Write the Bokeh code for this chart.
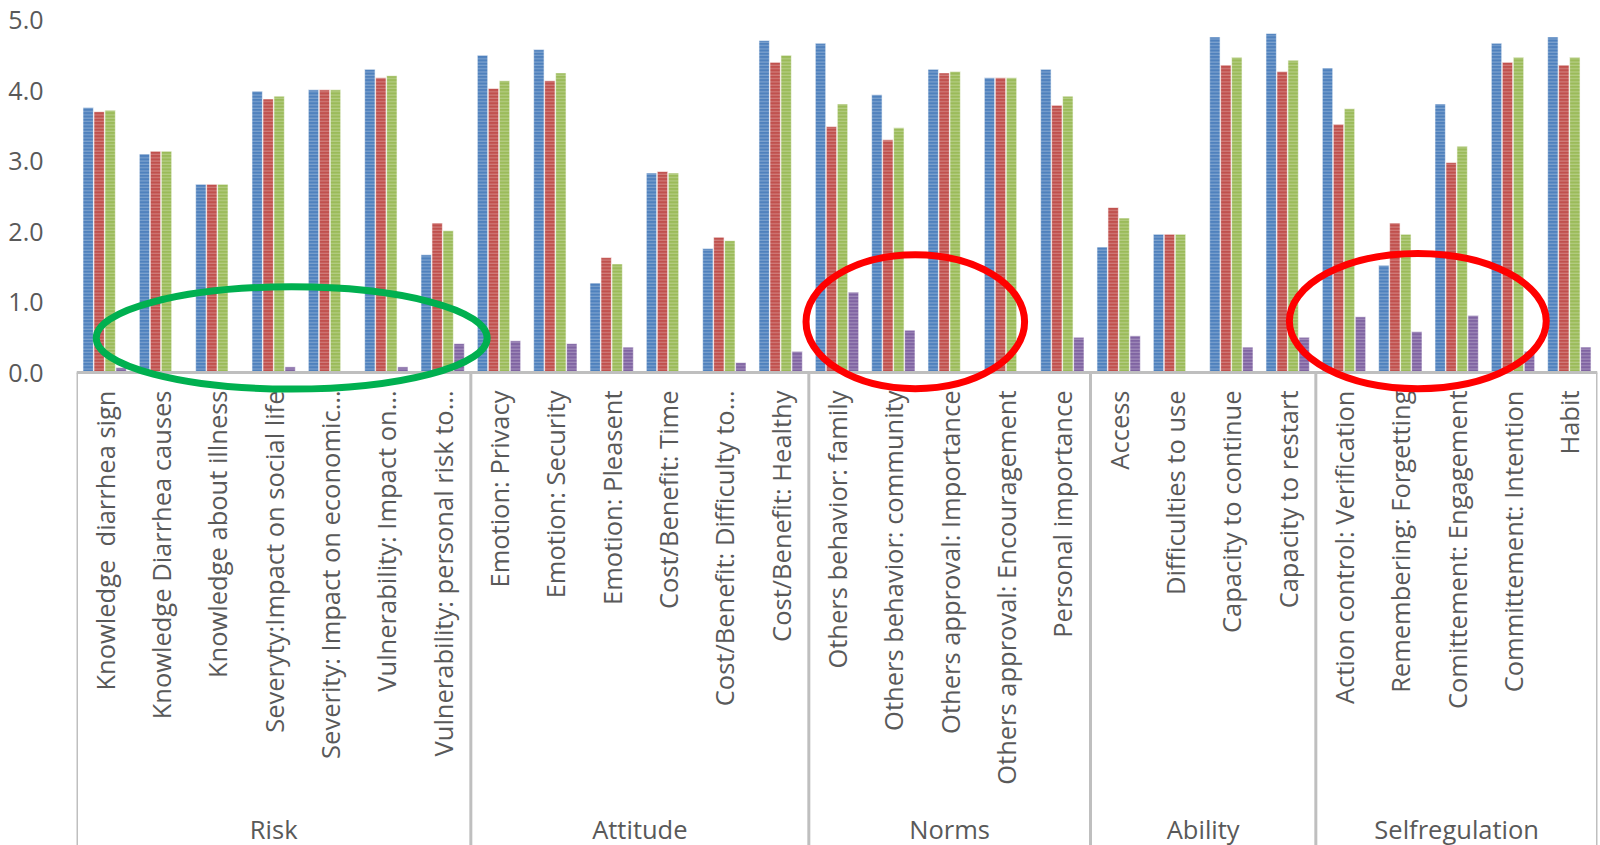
import math
from bokeh.plotting import figure
from bokeh.models import (ColumnDataSource, Range1d, LinearAxis, FixedTicker,
                          NumeralTickFormatter)
from bokeh.transform import dodge
from bokeh.core.properties import value
from bokeh.embed import file_html
from bokeh.resources import INLINE

# ---- data -----------------------------------------------------------------
groups = ["Risk", "Attitude", "Norms", "Ability", "Selfregulation"]

group_of = (["Risk"] * 7 + ["Attitude"] * 6 + ["Norms"] * 5 +
            ["Ability"] * 4 + ["Selfregulation"] * 5)

categories = [
    "Knowledge\u00a0 diarrhea sign",
    "Knowledge Diarrhea causes",
    "Knowledge about illness",
    "Severyty:Impact on social life",
    "Severity: Impact on economic\u2026",
    "Vulnerability: Impact on\u2026",
    "Vulnerability: personal risk to\u2026",
    "Emotion: Privacy",
    "Emotion: Security",
    "Emotion: Pleasent",
    "Cost/Benefit: Time",
    "Cost/Benefit: Difficulty to\u2026",
    "Cost/Benefit: Healthy",
    "Others behavior: family",
    "Others behavior: community",
    "Others approval: Importance",
    "Others approval: Encouragement",
    "Personal importance",
    "Access",
    "Difficulties to use",
    "Capacity to continue",
    "Capacity to restart",
    "Action control: Verification",
    "Remembering: Forgetting",
    "Comittement: Engagement",
    "Committement: Intention",
    "Habit",
]

series_1 = [3.76, 3.10, 2.67, 3.99, 4.01, 4.30, 1.67,
            4.50, 4.58, 1.27, 2.83, 1.76, 4.71,
            4.67, 3.94, 4.30, 4.18, 4.30,
            1.78, 1.96, 4.76, 4.81,
            4.32, 1.52, 3.81, 4.67, 4.76]
series_2 = [3.70, 3.14, 2.67, 3.88, 4.01, 4.18, 2.12,
            4.03, 4.14, 1.63, 2.85, 1.92, 4.40,
            3.49, 3.30, 4.25, 4.18, 3.79,
            2.34, 1.96, 4.36, 4.27,
            3.52, 2.12, 2.98, 4.40, 4.36]
series_3 = [3.72, 3.14, 2.67, 3.92, 4.01, 4.21, 2.01,
            4.14, 4.25, 1.54, 2.83, 1.87, 4.50,
            3.81, 3.47, 4.27, 4.18, 3.92,
            2.19, 1.96, 4.47, 4.43,
            3.74, 1.96, 3.21, 4.47, 4.47]
series_4 = [0.07, 0.00, 0.00, 0.08, 0.00, 0.08, 0.41,
            0.45, 0.41, 0.36, 0.00, 0.14, 0.30,
            1.14, 0.60, 0.00, 0.00, 0.50,
            0.52, 0.00, 0.36, 0.50,
            0.79, 0.58, 0.81, 0.30, 0.36]

y_ticks = [0, 1, 2, 3, 4, 5]

# highlighted regions: (centre x, centre y, width, height, colour)
highlights = [
    (3.82, 0.49, 6.94, 1.45, "#00B050"),
    (14.89, 0.72, 3.88, 1.90, "#FF0000"),
    (23.81, 0.73, 4.56, 1.92, "#FF0000"),
]

# ---- layout constants ------------------------------------------------------
W, H = 1600, 845
LEFT, RIGHT = 76, 3
PX_PER_UNIT = 70.5
ZERO_PX = 372
Y_TOP = ZERO_PX / PX_PER_UNIT
Y_BOTTOM = -(H - ZERO_PX) / PX_PER_UNIT

TEXT = "#595959"
AXIS = "#BFBFBF"
FONT = "Open Sans"

n = len(categories)
centers = [i + 0.5 for i in range(n)]

src = ColumnDataSource(dict(x=centers, label=categories,
                            s1=series_1, s2=series_2, s3=series_3, s4=series_4))

p = figure(width=W, height=H, output_backend="svg", toolbar_location=None,
           x_range=Range1d(0, n), y_range=Range1d(Y_BOTTOM, Y_TOP),
           min_border_left=LEFT, min_border_right=RIGHT,
           min_border_top=0, min_border_bottom=0,
           x_axis_type=None, y_axis_type=None)
p.outline_line_color = None
p.xgrid.visible = False
p.ygrid.visible = False
p.background_fill_color = "white"
p.border_fill_color = "white"

# value axis: labels only
yax = LinearAxis(ticker=FixedTicker(ticks=y_ticks),
                 formatter=NumeralTickFormatter(format="0.0"))
yax.axis_line_color = None
yax.major_tick_line_color = None
yax.minor_tick_line_color = None
yax.major_label_standoff = 27
yax.major_label_text_font = FONT
yax.major_label_text_font_size = "25px"
yax.major_label_text_color = TEXT
p.add_layout(yax, "left")

# grouped bars with a fine horizontal stripe texture
bar_w = 0.185
styles = [("s1", -0.2925, "#4F81BD"), ("s2", -0.0975, "#C0504D"),
          ("s3", 0.0975, "#9BBB59"), ("s4", 0.2925, "#8064A2")]
for col, off, color in styles:
    p.vbar(x=dodge("x", off, range=p.x_range), top=col, bottom=0, width=bar_w,
           source=src, fill_color=color, line_color="white", line_alpha=0.6,
           line_width=1, hatch_pattern="horizontal_line", hatch_color="white",
           hatch_alpha=0.28, hatch_scale=3.3, hatch_weight=1.1)

# category axis line
p.segment(x0=0, y0=0, x1=n, y1=0, line_color=AXIS, line_width=3)

# group separators, spanning the label area
bounds = [0]
for g in groups:
    bounds.append(bounds[-1] + group_of.count(g))
p.segment(x0=bounds, y0=[0] * len(bounds), x1=bounds,
          y1=[Y_BOTTOM] * len(bounds), line_color=AXIS, line_width=3)

# rotated category labels
p.text(x="x", y=-18 / PX_PER_UNIT, text="label", source=src,
       angle=math.pi / 2, text_align="right", text_baseline="middle",
       text_font=value(FONT), text_font_size="25.5px", text_color=TEXT)

# group labels
g_centers = [(bounds[i] + bounds[i + 1]) / 2 for i in range(len(groups))]
p.text(x=g_centers, y=[-(828 - ZERO_PX) / PX_PER_UNIT] * len(groups), text=groups,
       text_align="center", text_baseline="middle",
       text_font=value(FONT), text_font_size="25.5px", text_color=TEXT)

# highlight rings
for cx, cy, ew, eh, col in highlights:
    p.ellipse(x=cx, y=cy, width=ew, height=eh, fill_color=None,
              line_color=col, line_width=7)

open("out.html", "w").write(file_html(p, INLINE))
